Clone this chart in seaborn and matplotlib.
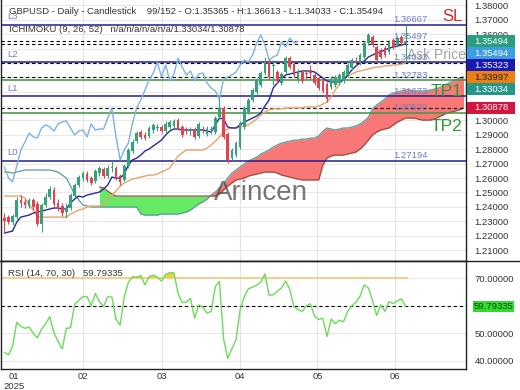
import numpy as np
import matplotlib
matplotlib.use("Agg")
import matplotlib.pyplot as plt
import matplotlib.transforms as mtransforms
from matplotlib.patches import Rectangle
from matplotlib.lines import Line2D
import seaborn as sns

# ---- candles (daily GBPUSD) ----
opens = [1.2323, 1.2330, 1.2295, 1.2330, 1.2448, 1.2434, 1.2406, 1.2448, 1.2420, 1.2281,
         1.2413, 1.2469, 1.2517, 1.2427, 1.2406, 1.2365, 1.2392, 1.2476, 1.2552, 1.2601,
         1.2628, 1.2601, 1.2580, 1.2635, 1.2663, 1.2615, 1.2670, 1.2670, 1.2615, 1.2587,
         1.2684, 1.2788, 1.2858, 1.2920, 1.2899, 1.2892, 1.2934, 1.2948, 1.2955, 1.2927,
         1.2955, 1.2962, 1.3003, 1.2955, 1.2934, 1.2927, 1.2941, 1.2892, 1.2941, 1.2906,
         1.2934, 1.2920, 1.3024, 1.3087, 1.2906, 1.2740, 1.2760, 1.2816, 1.2955, 1.3059,
         1.3142, 1.3198, 1.3247, 1.3330, 1.3406, 1.3379, 1.3337, 1.3261, 1.3337, 1.3434,
         1.3393, 1.3281, 1.3337, 1.3330, 1.3337, 1.3316, 1.3295, 1.3274, 1.3254, 1.3233,
         1.3247, 1.3261, 1.3274, 1.3316, 1.3365, 1.3413, 1.3399, 1.3441, 1.3538, 1.3580,
         1.3511, 1.3490, 1.3504, 1.3476, 1.3559, 1.3524, 1.3580, 1.35365]
highs = [1.2358, 1.2344, 1.2351, 1.2469, 1.2483, 1.2455, 1.2462, 1.2462, 1.2441, 1.2427,
         1.2497, 1.2545, 1.2538, 1.2455, 1.2427, 1.2427, 1.2497, 1.2566, 1.2622, 1.2649,
         1.2649, 1.2615, 1.2663, 1.2684, 1.2677, 1.2691, 1.2719, 1.2684, 1.2628, 1.2698,
         1.2809, 1.2872, 1.2927, 1.2934, 1.2920, 1.2962, 1.2983, 1.2976, 1.2969, 1.2997,
         1.3003, 1.3010, 1.3017, 1.2969, 1.2955, 1.2955, 1.2955, 1.2990, 1.2962, 1.2962,
         1.2962, 1.3031, 1.3156, 1.3101, 1.2920, 1.2809, 1.2858, 1.2997, 1.3101, 1.3156,
         1.3226, 1.3295, 1.3344, 1.3441, 1.3427, 1.3420, 1.3351, 1.3337, 1.3448, 1.3448,
         1.3406, 1.3358, 1.3351, 1.3351, 1.3386, 1.3330, 1.3309, 1.3288, 1.3267, 1.3309,
         1.3316, 1.3330, 1.3351, 1.3399, 1.3434, 1.3441, 1.3469, 1.3552, 1.3608, 1.3594,
         1.3524, 1.3504, 1.3517, 1.3559, 1.3573, 1.3587, 1.3594, 1.36613]
lows = [1.2226, 1.2281, 1.2274, 1.2316, 1.2399, 1.2392, 1.2392, 1.2379, 1.2267, 1.2226,
        1.2399, 1.2455, 1.2406, 1.2372, 1.2337, 1.2323, 1.2379, 1.2462, 1.2538, 1.2580,
        1.2573, 1.2552, 1.2566, 1.2615, 1.2601, 1.2601, 1.2642, 1.2587, 1.2552, 1.2580,
        1.2670, 1.2774, 1.2844, 1.2872, 1.2865, 1.2879, 1.2913, 1.2927, 1.2913, 1.2913,
        1.2941, 1.2948, 1.2934, 1.2886, 1.2906, 1.2899, 1.2872, 1.2879, 1.2913, 1.2892,
        1.2906, 1.2906, 1.3010, 1.2872, 1.2705, 1.2726, 1.2747, 1.2802, 1.2941, 1.3045,
        1.3128, 1.3184, 1.3233, 1.3316, 1.3281, 1.3247, 1.3261, 1.3247, 1.3323, 1.3358,
        1.3302, 1.3267, 1.3261, 1.3288, 1.3288, 1.3247, 1.3212, 1.3191, 1.3128, 1.3219,
        1.3233, 1.3247, 1.3261, 1.3302, 1.3351, 1.3379, 1.3386, 1.3427, 1.3524, 1.3511,
        1.3406, 1.3427, 1.3441, 1.3462, 1.3497, 1.3511, 1.3524, 1.34033]
closes = [1.2302, 1.2295, 1.2337, 1.2448, 1.2427, 1.2413, 1.2448, 1.2399, 1.2281, 1.2413,
          1.2469, 1.2524, 1.2420, 1.2386, 1.2358, 1.2392, 1.2483, 1.2552, 1.2608, 1.2635,
          1.2587, 1.2566, 1.2649, 1.2670, 1.2615, 1.2670, 1.2677, 1.2601, 1.2573, 1.2684,
          1.2795, 1.2851, 1.2913, 1.2886, 1.2879, 1.2948, 1.2969, 1.2955, 1.2927, 1.2976,
          1.2990, 1.2997, 1.2948, 1.2899, 1.2927, 1.2934, 1.2886, 1.2976, 1.2934, 1.2941,
          1.2941, 1.3017, 1.3087, 1.2886, 1.2726, 1.2795, 1.2844, 1.2983, 1.3087, 1.3142,
          1.3212, 1.3281, 1.3330, 1.3406, 1.3302, 1.3386, 1.3274, 1.3323, 1.3434, 1.3372,
          1.3316, 1.3344, 1.3274, 1.3323, 1.3330, 1.3261, 1.3226, 1.3205, 1.3149, 1.3288,
          1.3302, 1.3316, 1.3337, 1.3386, 1.3420, 1.3406, 1.3455, 1.3538, 1.3594, 1.3524,
          1.3420, 1.3441, 1.3455, 1.3545, 1.3511, 1.3573, 1.3538, 1.35494]

# ---- Ichimoku (9, 26, 52) ----
tenkan = [1.2218, 1.2225, 1.2232, 1.2294, 1.2329, 1.2336, 1.2343, 1.2357, 1.2364, 1.2371,
          1.2378, 1.2385, 1.2392, 1.2392, 1.2385, 1.2385, 1.2427, 1.2454, 1.2475, 1.2468,
          1.2482, 1.2489, 1.2496, 1.2503, 1.2524, 1.2552, 1.2607, 1.2600, 1.2600, 1.2628,
          1.2691, 1.2726, 1.2739, 1.2760, 1.2788, 1.2802, 1.2823, 1.2843, 1.2864, 1.2899,
          1.2927, 1.2941, 1.2941, 1.2934, 1.2934, 1.2934, 1.2934, 1.2934, 1.2934, 1.2927,
          1.2920, 1.2969, 1.3017, 1.3010, 1.2955, 1.2948, 1.2948, 1.2969, 1.2989, 1.3003,
          1.3017, 1.3031, 1.3052, 1.3101, 1.3142, 1.3226, 1.3260, 1.3295, 1.3316, 1.3323,
          1.3330, 1.3337, 1.3344, 1.3344, 1.3344, 1.3337, 1.3316, 1.3295, 1.3274, 1.3267,
          1.3267, 1.3267, 1.3281, 1.3316, 1.3351, 1.3379, 1.3399, 1.3413, 1.3441, 1.3455,
          1.3469, 1.3476, 1.3490, 1.3503, 1.3510, 1.3517, 1.3524, 1.35323]
kijun = [1.2475, 1.2475, 1.2475, 1.2475, 1.2475, 1.2461, 1.2413, 1.2378, 1.2336, 1.2329,
         1.2329, 1.2329, 1.2329, 1.2329, 1.2329, 1.2329, 1.2350, 1.2364, 1.2378, 1.2385,
         1.2399, 1.2406, 1.2406, 1.2406, 1.2420, 1.2448, 1.2482, 1.2510, 1.2545, 1.2566,
         1.2580, 1.2593, 1.2600, 1.2607, 1.2614, 1.2621, 1.2621, 1.2628, 1.2642, 1.2656,
         1.2670, 1.2712, 1.2753, 1.2774, 1.2795, 1.2795, 1.2795, 1.2795, 1.2795, 1.2809,
         1.2830, 1.2857, 1.2885, 1.2920, 1.2941, 1.2948, 1.2948, 1.2955, 1.2962, 1.2969,
         1.2989, 1.3010, 1.3038, 1.3059, 1.3073, 1.3080, 1.3080, 1.3080, 1.3087, 1.3087,
         1.3087, 1.3087, 1.3087, 1.3094, 1.3094, 1.3094, 1.3101, 1.3114, 1.3128, 1.3163,
         1.3212, 1.3253, 1.3288, 1.3309, 1.3323, 1.3337, 1.3344, 1.3351, 1.3358, 1.3365,
         1.3372, 1.3372, 1.3379, 1.3379, 1.3386, 1.3386, 1.3392, 1.33997]
span_a = [1.2642, 1.2642, 1.2635, 1.2642, 1.2649, 1.2656, 1.2656, 1.2656, 1.2656, 1.2656,
          1.2656, 1.2656, 1.2649, 1.2642, 1.2621, 1.2600, 1.2545, 1.2489, 1.2448, 1.2413,
          1.2406, 1.2399, 1.2399, 1.2399, 1.2399, 1.2399, 1.2399, 1.2399, 1.2399, 1.2399,
          1.2399, 1.2399, 1.2399, 1.2350, 1.2343, 1.2343, 1.2343, 1.2343, 1.2350, 1.2350,
          1.2350, 1.2350, 1.2350, 1.2357, 1.2364, 1.2378, 1.2399, 1.2420, 1.2434, 1.2454,
          1.2482, 1.2503, 1.2531, 1.2559, 1.2600, 1.2635, 1.2656, 1.2677, 1.2698, 1.2719,
          1.2732, 1.2746, 1.2767, 1.2781, 1.2795, 1.2816, 1.2830, 1.2843, 1.2850, 1.2857,
          1.2864, 1.2864, 1.2871, 1.2871, 1.2878, 1.2878, 1.2892, 1.2927, 1.2948, 1.2941,
          1.2934, 1.2941, 1.2948, 1.2948, 1.2955, 1.2962, 1.2976, 1.2996, 1.3024, 1.3080,
          1.3108, 1.3128, 1.3149, 1.3177, 1.3191, 1.3198, 1.3205, 1.3212, 1.3212, 1.3205,
          1.3205, 1.3205, 1.3205, 1.3212, 1.3219, 1.3226, 1.3239, 1.3253, 1.3267, 1.3281,
          1.3295, 1.33034]
span_b_start = 23
span_b = [1.2538, 1.2531, 1.2510, 1.2489, 1.2475, 1.2475, 1.2475, 1.2475, 1.2475, 1.2475,
          1.2475, 1.2475, 1.2475, 1.2475, 1.2475, 1.2475, 1.2475, 1.2475, 1.2475, 1.2475,
          1.2475, 1.2475, 1.2475, 1.2475, 1.2475, 1.2475, 1.2475, 1.2475, 1.2475, 1.2489,
          1.2517, 1.2545, 1.2566, 1.2587, 1.2593, 1.2600, 1.2614, 1.2621, 1.2628, 1.2635,
          1.2642, 1.2642, 1.2642, 1.2635, 1.2621, 1.2614, 1.2607, 1.2600, 1.2593, 1.2587,
          1.2587, 1.2587, 1.2587, 1.2587, 1.2691, 1.2739, 1.2753, 1.2760, 1.2760, 1.2760,
          1.2767, 1.2774, 1.2781, 1.2802, 1.2830, 1.2864, 1.2899, 1.2920, 1.2934, 1.2941,
          1.2948, 1.2969, 1.2989, 1.3003, 1.3017, 1.3017, 1.3017, 1.3010, 1.3003, 1.3003,
          1.3003, 1.3010, 1.3024, 1.3038, 1.3052, 1.3059, 1.3066, 1.3073, 1.30878]

# ---- RSI (14) ----
rsi = [43.0, 42.2, 45.2, 54.0, 52.5, 51.8, 52.3, 50.0, 48.3, 51.5,
       53.5, 56.0, 50.2, 47.0, 44.3, 51.8, 52.0, 60.5, 62.0, 63.3,
       63.3, 60.0, 64.5, 61.5, 59.8, 63.3, 63.2, 55.0, 53.0, 63.3,
       68.5, 70.6, 70.4, 71.0, 67.6, 70.6, 71.2, 70.4, 69.0, 71.5,
       72.0, 72.0, 64.5, 61.2, 61.3, 62.7, 55.5, 60.3, 59.5, 57.3,
       58.0, 67.0, 68.8, 48.0, 40.9, 44.3, 47.6, 58.5, 63.3, 66.2,
       66.8, 67.5, 68.6, 71.6, 63.9, 64.0, 65.3, 66.5, 69.0, 66.0,
       59.7, 58.6, 57.9, 60.0, 60.7, 56.2, 55.0, 55.5, 48.8, 55.2,
       53.5, 54.7, 54.2, 58.0, 60.0, 61.3, 63.5, 67.6, 66.5, 62.0,
       56.5, 60.3, 58.0, 61.5, 60.8, 61.8, 62.5, 59.79335]

# ---- levels / labels ----
level_lines = [1.36667, 1.34033, 1.31673, 1.27194]
level_names = ["L3", "L2", "L1", "L0"]
tp_lines = [1.32783, 1.30520]
marker_lines = [1.35494, 1.35323, 1.33997, 1.33034, 1.30878]
level_labels = [1.36667, 1.35497, 1.34033, 1.32783, 1.31673, 1.30520, 1.27194]
box_values = [1.35494, 1.35494, 1.35323, 1.33997, 1.33034, 1.30878]
box_colors = ["#2b9f7d", "#3d9de3", "#1818b4", "#ec7f14", "#25978a", "#d2163f"]
box_text = ["white", "white", "white", "#222222", "white", "white"]
month_pos = [2.3, 19, 38, 56.9, 75.7, 94.5]
month_labels = ["01\n2025", "02", "03", "04", "05", "06"]
price_ticks = [1.21, 1.22, 1.23, 1.24, 1.25, 1.26, 1.27, 1.28, 1.29, 1.30,
               1.31, 1.32, 1.33, 1.34, 1.35, 1.36, 1.37, 1.38]
rsi_ticks = [40, 50, 60, 70]

sns.set_theme(style="white")
plt.rcParams['font.family'] = ['Liberation Sans', 'DejaVu Sans']
FS = 6.8
TXT = "#333333"
LBL = "#6d80c6"

W, H = 520, 390
def frame(x0, y0, x1, y1):
    return [x0 / W, 1 - y1 / H, (x1 - x0) / W, (y1 - y0) / H]

fig = plt.figure(figsize=(5.2, 3.9), dpi=100)
ax = fig.add_axes(frame(1, 0, 466, 261))
ax2 = fig.add_axes(frame(1, 261, 466, 369), sharex=ax)

o = np.array(opens); h = np.array(highs); l = np.array(lows); c = np.array(closes)
x = np.arange(len(c))

# right price boxes, stacked so they do not overlap
sep = 12 / 1440
box_y = []
for v in box_values:
    box_y.append(v if not box_y else min(v, box_y[-1] - sep))
box_lo, box_hi = min(box_y) - sep / 2, max(box_y) + sep / 2

# grid; tick labels that sit under the price boxes are hidden by them
ax.set_yticks(price_ticks)
ax.set_yticklabels(["" if box_lo <= v <= box_hi else f"{v:.5f}" for v in price_ticks])
ax.grid(axis='y', color='#e8e8e8', lw=0.8)
for m in month_pos[1:]:
    ax.axvline(m, color='#e4e4e4', lw=0.8, zorder=0.6)
    ax2.axvline(m, color='#e4e4e4', lw=0.8, zorder=0.6)

# cloud
xa = np.arange(len(span_a))
xb = np.arange(span_b_start, span_b_start + len(span_b))
a_part = np.array(span_a)[span_b_start:]
b = np.array(span_b)
ax.fill_between(xb, a_part, b, where=b >= a_part, interpolate=True, color='#66ea66', lw=0, zorder=1)
ax.fill_between(xb, a_part, b, where=a_part > b, interpolate=True, color='#f87878', lw=0, zorder=1)
sns.lineplot(x=xa, y=span_a, ax=ax, color='#5c9c96', lw=0.9, zorder=1.5, legend=False)
sns.lineplot(x=xb, y=span_b, ax=ax, color='#a44a3c', lw=0.9, zorder=1.5, legend=False)

# horizontal levels
for v in level_lines:
    ax.axhline(v, color='#1f1f8f', lw=1.1, zorder=2)
for v in tp_lines:
    ax.axhline(v, color='#4b9a4b', lw=1.2, zorder=2)
for v in marker_lines:
    ax.axhline(v, color='black', lw=0.8, dashes=(3, 2.5), zorder=2)

# ichimoku lines
sns.lineplot(x=np.arange(len(c) - 26), y=c[26:], ax=ax, color='#7db2e2', lw=1.0, zorder=3, legend=False)
sns.lineplot(x=x, y=kijun, ax=ax, color='#eaa36a', lw=1.0, zorder=3, legend=False)
sns.lineplot(x=x, y=tenkan, ax=ax, color='#2a2a9c', lw=1.0, zorder=3, legend=False)

# candles
cols = np.where(np.abs(c - o) < 0.0004, '#6a6a6a', np.where(c >= o, '#35a27a', '#e2444f'))
ax.vlines(x, l, h, colors=cols, lw=0.8, zorder=4)
ax.bar(x, np.maximum(np.abs(c - o), 0.0003), bottom=np.minimum(o, c), width=0.65,
       color=cols, lw=0, zorder=4.5)

ax.set_xlim(-0.8, 111.6)
ax.set_ylim(1.2024, 1.3837)
ax.yaxis.tick_right()
ax.tick_params(axis='y', length=0, pad=6, labelsize=FS, colors=TXT)
ax.tick_params(axis='x', length=0, labelbottom=False)
for s in ['left', 'right', 'bottom']:
    ax.spines[s].set_color('#222222'); ax.spines[s].set_linewidth(1.0)
ax.spines['top'].set_visible(False)

# level text labels
for v in level_labels:
    ax.annotate(f"{v:.5f}", xy=(94.0, v), xytext=(0, 0.5), textcoords='offset points',
                fontsize=FS, color=LBL, va='bottom', ha='left', zorder=6)
tl = mtransforms.blended_transform_factory(ax.transAxes, ax.transData)
for v, n in zip(level_lines, level_names):
    ax.annotate(n, xy=(0.013, v), xycoords=tl, xytext=(0, 2.5), textcoords='offset points',
                fontsize=FS, color=LBL, va='bottom', ha='left', zorder=6)
ax.annotate("SL", xy=(0.992, level_lines[0]), xycoords=tl, xytext=(0, 6), textcoords='offset points',
            fontsize=12, color='#d42a2a', va='center', ha='right', zorder=6)
ax.annotate("TP1", xy=(0.992, tp_lines[0]), xycoords=tl, xytext=(0, -8), textcoords='offset points',
            fontsize=12.5, color='#2e9a2e', va='center', ha='right', zorder=6)
ax.annotate("TP2", xy=(0.992, tp_lines[1]), xycoords=tl, xytext=(0, -9.5), textcoords='offset points',
            fontsize=12.5, color='#2e9a2e', va='center', ha='right', zorder=6)
ax.annotate("Ask Price", xy=(97.4, closes[-1]), xytext=(0, -10), textcoords='offset points',
            fontsize=10, color='#8a8a8a', alpha=0.8, va='center', ha='left', zorder=6)
ax.text(50.6, 1.2497, "Arincen", fontsize=20, color='#4a4a4a', alpha=0.75,
        va='center', ha='left', zorder=5)

for v, yv, fc, tc in zip(box_values, box_y, box_colors, box_text):
    ax.add_patch(Rectangle((1.002, yv - sep / 2), 0.103, sep, transform=tl, clip_on=False,
                           fc=fc, ec='none', zorder=10))
    ax.text(1.054, yv, f"{v:.5f}", transform=tl, fontsize=FS, color=tc, ha='center',
            va='center', clip_on=False, zorder=11)

# ---- RSI panel ----
r = np.array(rsi)
ax2.set_yticks(rsi_ticks)
ax2.set_yticklabels(["" if abs(v - rsi[-1]) < 2 else f"{v:.5f}" for v in rsi_ticks])
ax2.grid(axis='y', color='#e8e8e8', lw=0.8)
ax2.hlines(70, -0.8, 97.6, color='#f5c87a', lw=1.2, zorder=2)
ax2.fill_between(x, r, 70, where=r > 70, interpolate=True, color='#f0d050', lw=0, zorder=2.5)
ax2.axhline(rsi[-1], color='black', lw=0.8, dashes=(3, 2.5), zorder=2)
sns.lineplot(x=x, y=r, ax=ax2, color='#6bdc5a', lw=1.0, zorder=3, legend=False)
ax2.set_ylim(37.0, 76.3)
ax2.yaxis.tick_right()
ax2.tick_params(axis='y', length=0, pad=6, labelsize=FS, colors=TXT)
ax2.set_xticks(month_pos)
ax2.set_xticklabels(month_labels)
ax2.tick_params(axis='x', length=0, pad=2, labelsize=FS, colors=TXT)
for s in ['left', 'right', 'bottom', 'top']:
    ax2.spines[s].set_color('#222222'); ax2.spines[s].set_linewidth(1.0)
ax.set_xlabel(''); ax.set_ylabel(''); ax2.set_xlabel(''); ax2.set_ylabel('')

tr2 = mtransforms.blended_transform_factory(ax2.transAxes, ax2.transData)
ax2.add_patch(Rectangle((1.015, rsi[-1] - 1.9), 0.088, 3.8, transform=tr2, clip_on=False,
                        fc='#30dc30', ec='none', zorder=10))
ax2.text(1.059, rsi[-1], f"{rsi[-1]:.5f}", transform=tr2, fontsize=FS, color='#114411',
         ha='center', va='center', clip_on=False, zorder=11)

# header texts
fig.text(9 / W, 1 - 12 / H, "GBPUSD - Daily - Candlestick    99/152 - O:1.35365 - H:1.36613 - L:1.34033 - C:1.35494",
         fontsize=FS, color=TXT, va='center', ha='left')
fig.text(9 / W, 1 - 29 / H, "ICHIMOKU (9, 26, 52)   n/a/n/a/n/a/n/a/1.33034/1.30878",
         fontsize=FS, color=TXT, va='center', ha='left')
fig.text(8 / W, 1 - 273 / H, "RSI (14, 70, 30)   59.79335", fontsize=FS, color=TXT,
         va='center', ha='left')
fig.add_artist(Line2D([0, 1], [1 - 261 / H, 1 - 261 / H], transform=fig.transFigure,
                      color='#222222', lw=1.0))

fig.savefig("out.png", dpi=100)
